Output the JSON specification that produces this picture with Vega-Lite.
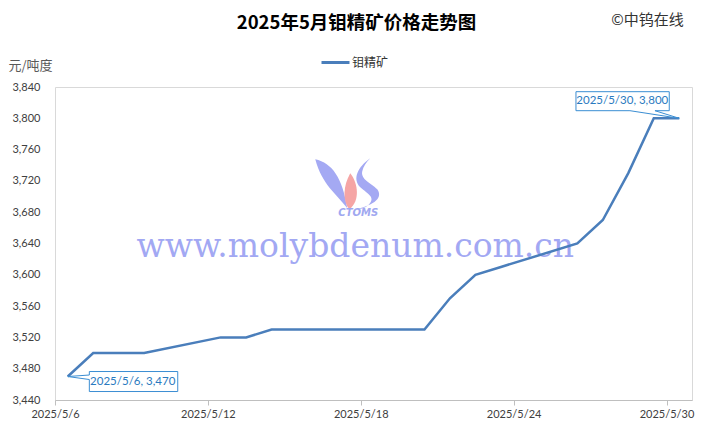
{
  "$schema": "https://vega.github.io/schema/vega-lite/v6.json",
  "width": 637,
  "height": 313,
  "autosize": {"type": "none"},
  "padding": {"left": 55, "top": 87, "right": 18, "bottom": 30},
  "background": "white",
  "title": {
    "text": "2025年5月钼精矿价格走势图",
    "font": "Noto Sans CJK SC",
    "fontSize": 18.5,
    "fontWeight": "bold",
    "color": "#000000",
    "anchor": "middle",
    "frame": "group",
    "dx": -17,
    "dy": 34,
    "offset": 14
  },
  "datasets": {
    "prices": [
      {"date": "2025-05-06", "price": 3470, "series": "钼精矿"},
      {"date": "2025-05-07", "price": 3500, "series": "钼精矿"},
      {"date": "2025-05-08", "price": 3500, "series": "钼精矿"},
      {"date": "2025-05-09", "price": 3500, "series": "钼精矿"},
      {"date": "2025-05-12", "price": 3520, "series": "钼精矿"},
      {"date": "2025-05-13", "price": 3520, "series": "钼精矿"},
      {"date": "2025-05-14", "price": 3530, "series": "钼精矿"},
      {"date": "2025-05-15", "price": 3530, "series": "钼精矿"},
      {"date": "2025-05-16", "price": 3530, "series": "钼精矿"},
      {"date": "2025-05-19", "price": 3530, "series": "钼精矿"},
      {"date": "2025-05-20", "price": 3530, "series": "钼精矿"},
      {"date": "2025-05-21", "price": 3570, "series": "钼精矿"},
      {"date": "2025-05-22", "price": 3600, "series": "钼精矿"},
      {"date": "2025-05-23", "price": 3610, "series": "钼精矿"},
      {"date": "2025-05-26", "price": 3640, "series": "钼精矿"},
      {"date": "2025-05-27", "price": 3670, "series": "钼精矿"},
      {"date": "2025-05-28", "price": 3730, "series": "钼精矿"},
      {"date": "2025-05-29", "price": 3800, "series": "钼精矿"},
      {"date": "2025-05-30", "price": 3800, "series": "钼精矿"}
    ],
    "notes": [
      {"date": "2025-05-06", "price": 3470, "label": "2025/5/6, 3,470", "which": "first"},
      {"date": "2025-05-30", "price": 3800, "label": "2025/5/30, 3,800", "which": "last"}
    ]
  },
  "layer": [
    {
      "data": {"values": [{}]},
      "mark": {"type": "point", "shape": "M-37,-24C-20,-20 -10,-6 -5,25C-16,10 -30,2 -37,-24Z", "filled": true, "size": 4, "color": "#a4a9f3", "opacity": 1},
      "encoding": {
        "x": {
          "datum": {"year": 2025, "month": 5, "date": 17, "hours": 16, "utc": true},
          "type": "temporal",
          "title": null,
          "scale": {
            "domain": [
              {"year": 2025, "month": 5, "date": 6, "utc": true},
              {"year": 2025, "month": 5, "date": 31, "utc": true}
            ],
            "nice": false
          },
          "axis": {
            "values": [
              {"year": 2025, "month": 5, "date": 6, "utc": true},
              {"year": 2025, "month": 5, "date": 12, "utc": true},
              {"year": 2025, "month": 5, "date": 18, "utc": true},
              {"year": 2025, "month": 5, "date": 24, "utc": true},
              {"year": 2025, "month": 5, "date": 30, "utc": true}
            ],
            "tickCount": 30,
            "format": "%Y/%-m/%-d",
            "grid": false,
            "domainColor": "#bfbfbf",
            "tickColor": "#bfbfbf",
            "tickSize": 5,
            "labelFont": "Lato",
            "labelFontSize": 11,
            "labelColor": "#404040",
            "labelPadding": 3,
            "labelOverlap": false,
            "labelFlush": false
          }
        },
        "y": {
          "datum": 3717,
          "type": "quantitative",
          "scale": {"domain": [3440, 3840], "nice": false, "zero": false},
          "axis": {
            "values": [3440, 3480, 3520, 3560, 3600, 3640, 3680, 3720, 3760, 3800, 3840],
            "tickCount": 20,
            "format": ",.0f",
            "ticks": false,
            "domain": false,
            "gridColor": "#d9d9d9",
            "labelOverlap": false,
            "labelFont": "Lato",
            "labelFontSize": 11,
            "labelColor": "#404040",
            "labelPadding": 15,
            "title": "元/吨度",
            "titleAngle": 0,
            "titleAlign": "left",
            "titleBaseline": "middle",
            "titleX": -47,
            "titleY": -22,
            "titleFont": "Noto Sans CJK SC",
            "titleFontSize": 13,
            "titleFontWeight": "normal",
            "titleColor": "#595959"
          }
        }
      }
    },
    {
      "data": {"values": [{}]},
      "mark": {"type": "point", "shape": "M-2,-10C6,0 8,18 -3,26C-10,18 -9,2 -2,-10Z", "filled": true, "size": 4, "color": "#f5a5a5", "opacity": 1},
      "encoding": {
        "x": {"datum": {"year": 2025, "month": 5, "date": 17, "hours": 16, "utc": true}, "type": "temporal"},
        "y": {"datum": 3717, "type": "quantitative"}
      }
    },
    {
      "data": {"values": [{}]},
      "mark": {"type": "point", "shape": "M18,-25C5,-16 0,-4 8,4C16,11 24,14 16,22C12,25 8,26 3,26C18,23 32,16 25,6C19,0 8,-4 10,-12C11,-17 14,-21 18,-25Z", "filled": true, "size": 4, "color": "#a4a9f3", "opacity": 1},
      "encoding": {
        "x": {"datum": {"year": 2025, "month": 5, "date": 17, "hours": 16, "utc": true}, "type": "temporal"},
        "y": {"datum": 3717, "type": "quantitative"}
      }
    },
    {
      "data": {"values": [{}]},
      "mark": {"type": "text", "text": "CTOMS", "font": "DejaVu Sans", "fontSize": 10, "fontWeight": "bold", "fontStyle": "italic", "color": "#a0a8f0", "align": "center", "baseline": "middle", "dx": 6, "dy": 30},
      "encoding": {
        "x": {"datum": {"year": 2025, "month": 5, "date": 17, "hours": 16, "utc": true}, "type": "temporal"},
        "y": {"datum": 3717, "type": "quantitative"}
      }
    },
    {
      "data": {"values": [{}]},
      "mark": {"type": "text", "text": "www.molybdenum.com.cn", "font": "DejaVu Serif", "fontSize": 33, "color": "#a2a8f3", "align": "center", "baseline": "alphabetic", "dx": 3, "dy": 74},
      "encoding": {
        "x": {"datum": {"year": 2025, "month": 5, "date": 17, "hours": 16, "utc": true}, "type": "temporal"},
        "y": {"datum": 3717, "type": "quantitative"}
      }
    },
    {
      "data": {"name": "prices"},
      "mark": {"type": "line", "strokeWidth": 2.5},
      "encoding": {
        "x": {
          "field": "date",
          "type": "temporal",
          "timeUnit": "utcyearmonthdate",
          "bandPosition": 0.5,
          "title": null
        },
        "y": {
          "field": "price",
          "type": "quantitative"
        },
        "color": {
          "field": "series",
          "type": "nominal",
          "scale": {"range": ["#4a7ebb"]},
          "legend": {
            "orient": "none",
            "legendX": 265,
            "legendY": -40,
            "title": null,
            "symbolType": "stroke",
            "symbolSize": 784,
            "symbolStrokeWidth": 3,
            "labelFont": "Noto Sans CJK SC",
            "labelFontSize": 12,
            "labelColor": "#333333",
            "labelOffset": 1,
            "padding": 0
          }
        }
      }
    },
    {
      "data": {"name": "notes"},
      "transform": [{"filter": "datum.which === 'first'"}],
      "mark": {"type": "point", "shape": "M21.6,-5H110V15H21.6V3L0,0L21.6,-1.5Z", "size": 4, "filled": false, "fill": "white", "stroke": "#3b8ed3", "strokeWidth": 1, "opacity": 1},
      "encoding": {
        "x": {"field": "date", "type": "temporal", "timeUnit": "utcyearmonthdate", "bandPosition": 0.5, "title": null},
        "y": {"field": "price", "type": "quantitative"}
      }
    },
    {
      "data": {"name": "notes"},
      "transform": [{"filter": "datum.which === 'first'"}],
      "mark": {"type": "text", "font": "Lato", "fontSize": 11.5, "color": "#2a7ac0", "align": "center", "baseline": "middle", "dx": 65, "dy": 5},
      "encoding": {
        "x": {"field": "date", "type": "temporal", "timeUnit": "utcyearmonthdate", "bandPosition": 0.5, "title": null},
        "y": {"field": "price", "type": "quantitative"},
        "text": {"field": "label"}
      }
    },
    {
      "data": {"name": "notes"},
      "transform": [{"filter": "datum.which === 'last'"}],
      "mark": {"type": "point", "shape": "M-103.3,-26.6H-10V-7.6H-24.3L0,0L-49.3,-7.6H-103.3Z", "size": 4, "filled": false, "fill": "white", "stroke": "#3b8ed3", "strokeWidth": 1, "opacity": 1},
      "encoding": {
        "x": {"field": "date", "type": "temporal", "timeUnit": "utcyearmonthdate", "bandPosition": 0.5, "title": null},
        "y": {"field": "price", "type": "quantitative"}
      }
    },
    {
      "data": {"name": "notes"},
      "transform": [{"filter": "datum.which === 'last'"}],
      "mark": {"type": "text", "font": "Lato", "fontSize": 11.5, "color": "#2a7ac0", "align": "center", "baseline": "middle", "dx": -57, "dy": -17},
      "encoding": {
        "x": {"field": "date", "type": "temporal", "timeUnit": "utcyearmonthdate", "bandPosition": 0.5, "title": null},
        "y": {"field": "price", "type": "quantitative"},
        "text": {"field": "label"}
      }
    },
    {
      "data": {"values": [{}]},
      "mark": {"type": "text", "text": "©中钨在线", "font": "Noto Sans CJK SC", "fontSize": 15, "color": "#333333", "align": "center", "baseline": "middle"},
      "encoding": {
        "x": {"datum": {"year": 2025, "month": 5, "date": 29, "hours": 6, "utc": true}, "type": "temporal"},
        "y": {"datum": 3926, "type": "quantitative"}
      }
    }
  ],
  "config": {
    "view": {"stroke": "#d9d9d9"}
  }
}
